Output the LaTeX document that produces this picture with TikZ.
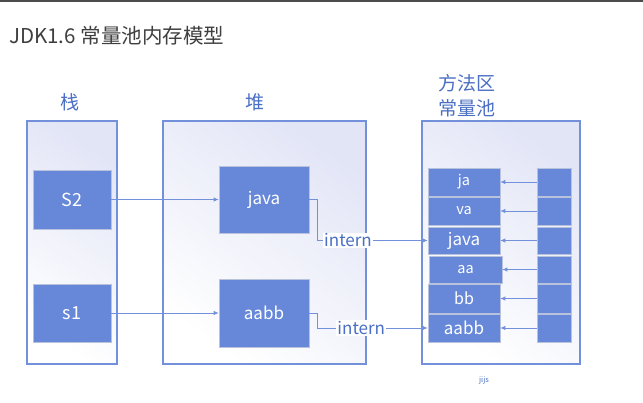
\documentclass[tikz,border=0pt]{standalone}
\usepackage{fontspec}
\setmainfont{Noto Sans CJK SC}
\usetikzlibrary{arrows.meta}
\definecolor{boxblue}{HTML}{6788D8}
\definecolor{edgeblue}{HTML}{7390DA}
\definecolor{lblblue}{HTML}{4A6FC4}
\definecolor{lav}{HTML}{E2E5F6}
\definecolor{boxedge}{HTML}{B8C2DC}
\definecolor{titlegray}{HTML}{3F3F3F}
\newcommand{\fs}[1]{\fontsize{#1}{#1}\selectfont}
\tikzset{
  area/.style={draw=edgeblue, line width=1.1pt, top color=lav, bottom color=white, shading angle=-35},
  blk/.style={fill=boxblue, draw=boxedge, line width=0.6pt, text=white, inner sep=0pt, font=\fs{17}},
  pool/.style={fill=boxblue, draw=boxedge, line width=0.6pt, text=white, inner sep=0pt, font=\fs{14.5}},
  conn/.style={draw=edgeblue, line width=0.8pt, -{Latex[length=5pt,width=4.5pt]}},
  hdr/.style={text=lblblue, font=\fs{19}},
  itx/.style={fill=white, text=lblblue, inner sep=1pt, font=\fs{17}},
}
\begin{document}
\begin{tikzpicture}[x=1pt,y=-1pt]
\useasboundingbox (0,0) rectangle (643,402);
\fill[white] (0,0) rectangle (643,402);
\fill[black!70] (0,0) rectangle (643,1.6);
\node[anchor=west, text=titlegray, font=\fs{20.5}, inner sep=0pt] (title) at (9,36) {JDK1.6 常量池内存模型};
% areas
\path[area] (27,121) rectangle (117,364);
\path[area] (163,121) rectangle (366,364);
\path[area] (422,121) rectangle (580,364);
\node[hdr] (lstack) at (70,102) {栈};
\node[hdr] (lheap) at (255,102) {堆};
\node[hdr] (lma) at (467,83) {方法区};
\node[hdr] (lcp) at (467,108) {常量池};
% stack / heap boxes
\node[blk, minimum width=78pt, minimum height=59pt, font=\fs{18}] (s2) at (72,199.5) {S2};
\node[blk, minimum width=78pt, minimum height=58pt, font=\fs{18}] (s1) at (72,313) {s1};
\node[blk, minimum width=90pt, minimum height=67pt] (hjava) at (264,199.5) {java};
\node[blk, minimum width=90pt, minimum height=68pt] (haabb) at (264,313) {aabb};
% pool left column
\node[pool, minimum width=72pt, minimum height=28pt] (pja) at (464,182) {ja};
\node[pool, minimum width=72pt, minimum height=28pt] (pva) at (464,211) {va};
\node[pool, minimum width=72pt, minimum height=27pt, font=\fs{17}] (pjava) at (464,240.5) {java};
\node[pool, minimum width=73pt, minimum height=27pt] (paa) at (465.5,269.5) {aa};
\node[pool, minimum width=72pt, minimum height=29pt, font=\fs{16}] (pbb) at (464,298.5) {bb};
\node[pool, minimum width=72pt, minimum height=28pt, font=\fs{17}] (paabb) at (464,328) {aabb};
% pool right column
\node[pool, minimum width=34pt, minimum height=28pt] (rja) at (554,182) {};
\node[pool, minimum width=34pt, minimum height=28pt] (rva) at (554,211) {};
\node[pool, minimum width=34pt, minimum height=27pt] (rjava) at (554,240.5) {};
\node[pool, minimum width=34pt, minimum height=27pt] (raa) at (554,269.5) {};
\node[pool, minimum width=34pt, minimum height=29pt] (rbb) at (554,298.5) {};
\node[pool, minimum width=34pt, minimum height=28pt] (raabb) at (554,328) {};
% connectors
\draw[conn] (s2.east) -- (hjava.west);
\draw[conn] (s1.east) -- (haabb.west);
\coordinate (c1a) at (317,199.5);
\coordinate (c1b) at (317,240.5);
\coordinate (c2a) at (317,313);
\coordinate (c2b) at (317,328);
\draw[conn] (hjava.east) -- (c1a) -- (c1b) -- node[itx, pos=0.28] (int1) {intern} (pjava.west);
\draw[conn] (haabb.east) -- (c2a) -- (c2b) -- node[itx, pos=0.4] (int2) {intern} (paabb.west);
\foreach \a/\b in {rja/pja, rva/pva, rjava/pjava, raa/paa, rbb/pbb, raabb/paabb}{
  \draw[conn] (\a.west) -- (\b.east);
}
\node[text=lblblue, font=\fs{7.5}] (note) at (484,380) {jijs};
\end{tikzpicture}
\end{document}
